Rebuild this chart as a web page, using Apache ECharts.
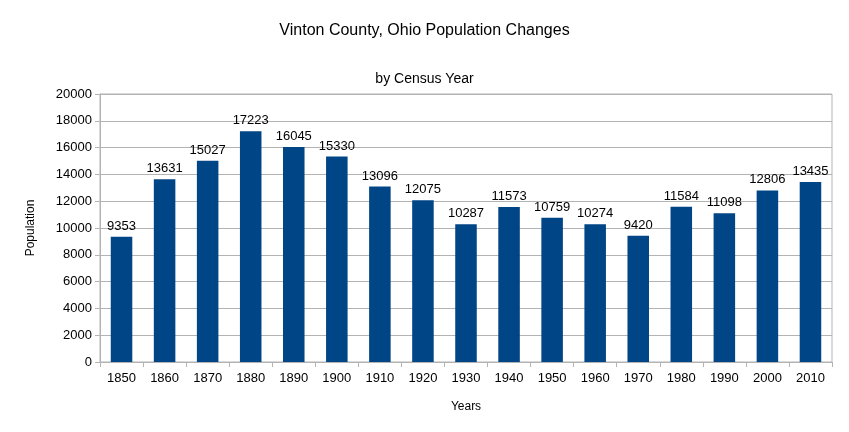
<!DOCTYPE html>
<html>
<head>
<meta charset="utf-8">
<script src="https://cdn.jsdelivr.net/npm/echarts@6/dist/echarts.min.js"></script>
<style>
  html, body { margin: 0; padding: 0; background: #fff; }
  #chart { width: 849px; height: 432px; }
</style>
</head>
<body>
<div id="chart"></div>
<script>
// census years and population counts
const years = ['1850','1860','1870','1880','1890','1900','1910','1920','1930','1940','1950','1960','1970','1980','1990','2000','2010']
const population = [9353,13631,15027,17223,16045,15330,13096,12075,10287,11573,10759,10274,9420,11584,11098,12806,13435]

const font = 'Liberation Sans, Arial, sans-serif'
const chart = echarts.init(document.getElementById('chart'))

const option = {
  animation: false,
  backgroundColor: '#fff',
  title: [
    {
      text: 'Vinton County, Ohio Population Changes',
      left: 'center',
      top: 18,
      textStyle: { fontFamily: font, fontSize: 16, fontWeight: 'normal', color: '#000' }
    },
    {
      text: 'by Census Year',
      left: 'center',
      top: 67,
      textStyle: { fontFamily: font, fontSize: 14, fontWeight: 'normal', color: '#000' }
    }
  ],
  grid: { left: 100, right: 17, top: 94, bottom: 70, show: true, borderColor: '#b3b3b3', borderWidth: 1 },
  xAxis: {
    type: 'category',
    data: years,
    name: 'Years',
    nameLocation: 'middle',
    nameGap: 39,
    nameTextStyle: { fontFamily: font, fontSize: 12, color: '#000' },
    axisLine: { lineStyle: { color: '#b3b3b3' } },
    axisTick: { show: true, length: 5, lineStyle: { color: '#b3b3b3' } },
    axisLabel: { fontFamily: font, fontSize: 13, color: '#000', margin: 10 }
  },
  yAxis: {
    type: 'value',
    min: 0,
    max: 20000,
    interval: 2000,
    name: 'Population',
    nameLocation: 'middle',
    nameGap: 63,
    nameTextStyle: { fontFamily: font, fontSize: 12, color: '#000' },
    axisLine: { show: true, lineStyle: { color: '#b3b3b3' } },
    axisTick: { show: true, length: 5, lineStyle: { color: '#b3b3b3' } },
    axisLabel: { fontFamily: font, fontSize: 13, color: '#000', margin: 8, formatter: v => String(v) },
    splitLine: { lineStyle: { color: '#b3b3b3' } }
  },
  series: [
    {
      type: 'bar',
      data: population,
      barWidth: '50%',
      itemStyle: { color: '#004586' },
      label: {
        show: true,
        position: 'top',
        distance: 4,
        fontFamily: font,
        fontSize: 13,
        color: '#000'
      }
    }
  ]
}

chart.setOption(option)
</script>
</body>
</html>
